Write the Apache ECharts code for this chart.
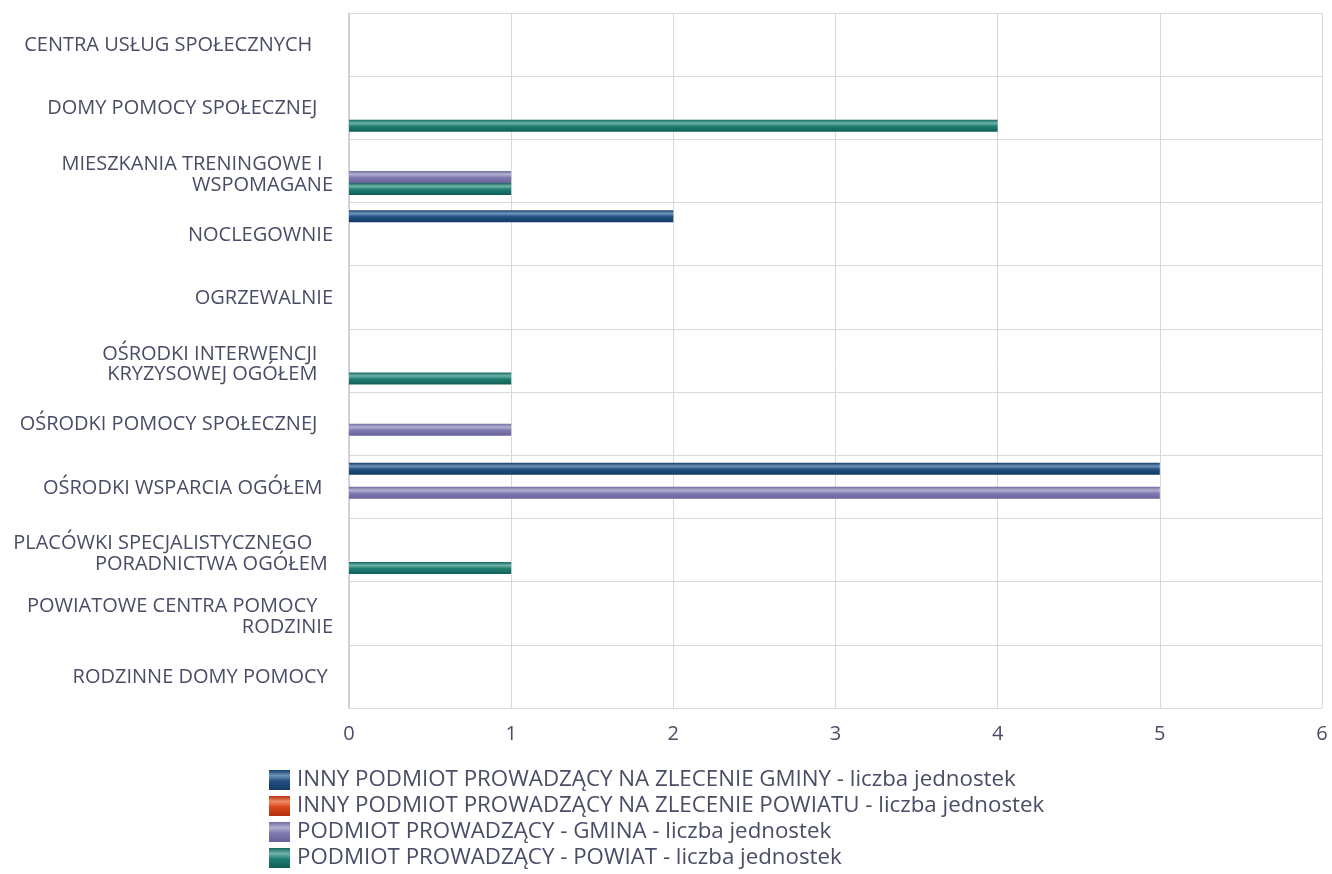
<!DOCTYPE html>
<html>
<head>
<meta charset="utf-8">
<style>
  html, body { margin: 0; padding: 0; background: #ffffff; }
  #chart { width: 1332px; height: 874px; }
</style>
<script src="https://cdn.jsdelivr.net/npm/echarts@6/dist/echarts.min.js"></script>
</head>
<body>
<div id="chart"></div>
<script>
// Types of social-assistance units (top to bottom)
const categories = [
  'CENTRA USŁUG SPOŁECZNYCH    ',
  'DOMY POMOCY SPOŁECZNEJ   ',
  'MIESZKANIA TRENINGOWE I  \nWSPOMAGANE',
  'NOCLEGOWNIE',
  'OGRZEWALNIE',
  'OŚRODKI INTERWENCJI   \nKRYZYSOWEJ OGÓŁEM   ',
  'OŚRODKI POMOCY SPOŁECZNEJ   ',
  'OŚRODKI WSPARCIA OGÓŁEM  ',
  'PLACÓWKI SPECJALISTYCZNEGO    \nPORADNICTWA OGÓŁEM ',
  'POWIATOWE CENTRA POMOCY   \nRODZINIE',
  'RODZINNE DOMY POMOCY '
];

const seriesNames = [
  'INNY PODMIOT PROWADZĄCY NA ZLECENIE GMINY - liczba jednostek',
  'INNY PODMIOT PROWADZĄCY NA ZLECENIE POWIATU - liczba jednostek',
  'PODMIOT PROWADZĄCY - GMINA - liczba jednostek',
  'PODMIOT PROWADZĄCY - POWIAT - liczba jednostek'
];

// Unit counts per category, one array per operator type
const innyGmina   = [0, 0, 0, 2, 0, 0, 0, 5, 0, 0, 0];
const innyPowiat  = [0, 0, 0, 0, 0, 0, 0, 0, 0, 0, 0];
const gmina       = [0, 0, 1, 0, 0, 0, 1, 5, 0, 0, 0];
const powiat      = [0, 4, 1, 0, 0, 1, 0, 0, 1, 0, 0];

const xTicks = [0, 1, 2, 3, 4, 5, 6];

// Cylinder-like shading: dark edges, light stripe near the top
const palettes = [
  ['#163f6b', '#6e93ba', '#234f80', '#123a63'],
  ['#b93410', '#f08a66', '#d8461c', '#b0300c'],
  ['#6f6b9e', '#b3b1d2', '#7f7bb0', '#66629a'],
  ['#14685f', '#6fb2a8', '#1f7d72', '#115e56']
];
function shade(p) {
  return new echarts.graphic.LinearGradient(0, 0, 0, 1, [
    { offset: 0, color: p[0] },
    { offset: 0.28, color: p[1] },
    { offset: 0.55, color: p[2] },
    { offset: 1, color: p[3] }
  ]);
}

const values = [innyGmina, innyPowiat, gmina, powiat];
const textColor = '#4a4d66';
const font = 'Open Sans';
const labelBase = { fontFamily: font, fontSize: 20, color: textColor, lineHeight: 23, align: 'right' };

// Two-line category names sit a little lower than single-line ones
function categoryLabel(v) {
  if (!v.includes('\n')) return v;
  return v.split('\n').map((line, i) => (i === 0 ? '{a|' : '{b|') + line + '}').join('\n');
}

const chart = echarts.init(document.getElementById('chart'));
chart.setOption({
  animation: false,
  textStyle: { fontFamily: font, color: textColor },
  grid: { left: 349, right: 10, top: 13, bottom: 166, containLabel: false },
  legend: {
    orient: 'vertical',
    left: 269,
    top: 769,
    padding: 0,
    itemWidth: 21,
    itemHeight: 20,
    itemGap: 4,
    icon: 'rect',
    textStyle: { fontFamily: font, fontSize: 22.3, color: textColor, padding: [0, 0, 0, 2] },
    data: seriesNames
  },
  xAxis: {
    type: 'value',
    min: 0,
    max: 6,
    interval: 1,
    axisLine: { show: false },
    axisTick: { show: false },
    splitLine: { show: true, lineStyle: { color: '#d9d9d9', width: 1 } },
    axisLabel: {
      fontFamily: font, fontSize: 20, color: textColor, margin: 16,
      formatter: v => xTicks.includes(v) ? String(v) : ''
    }
  },
  yAxis: {
    type: 'category',
    inverse: true,
    data: categories,
    axisLine: { show: true, lineStyle: { color: '#c8c8d4', width: 1.5 } },
    axisTick: { show: false },
    splitLine: { show: true, lineStyle: { color: '#d9d9d9', width: 1 } },
    axisLabel: Object.assign({}, labelBase, {
      margin: 16,
      padding: [2, 0, 0, 0],
      formatter: categoryLabel,
      rich: {
        a: Object.assign({}, labelBase, { padding: [8, 0, 0, 0] }),
        b: Object.assign({}, labelBase, { padding: [3, 0, 0, 0] })
      }
    })
  },
  series: values.map((vals, i) => ({
    name: seriesNames[i],
    type: 'bar',
    data: vals,
    barWidth: 12,
    barGap: '0%',
    itemStyle: { color: shade(palettes[i]) }
  }))
});
</script>
</body>
</html>
